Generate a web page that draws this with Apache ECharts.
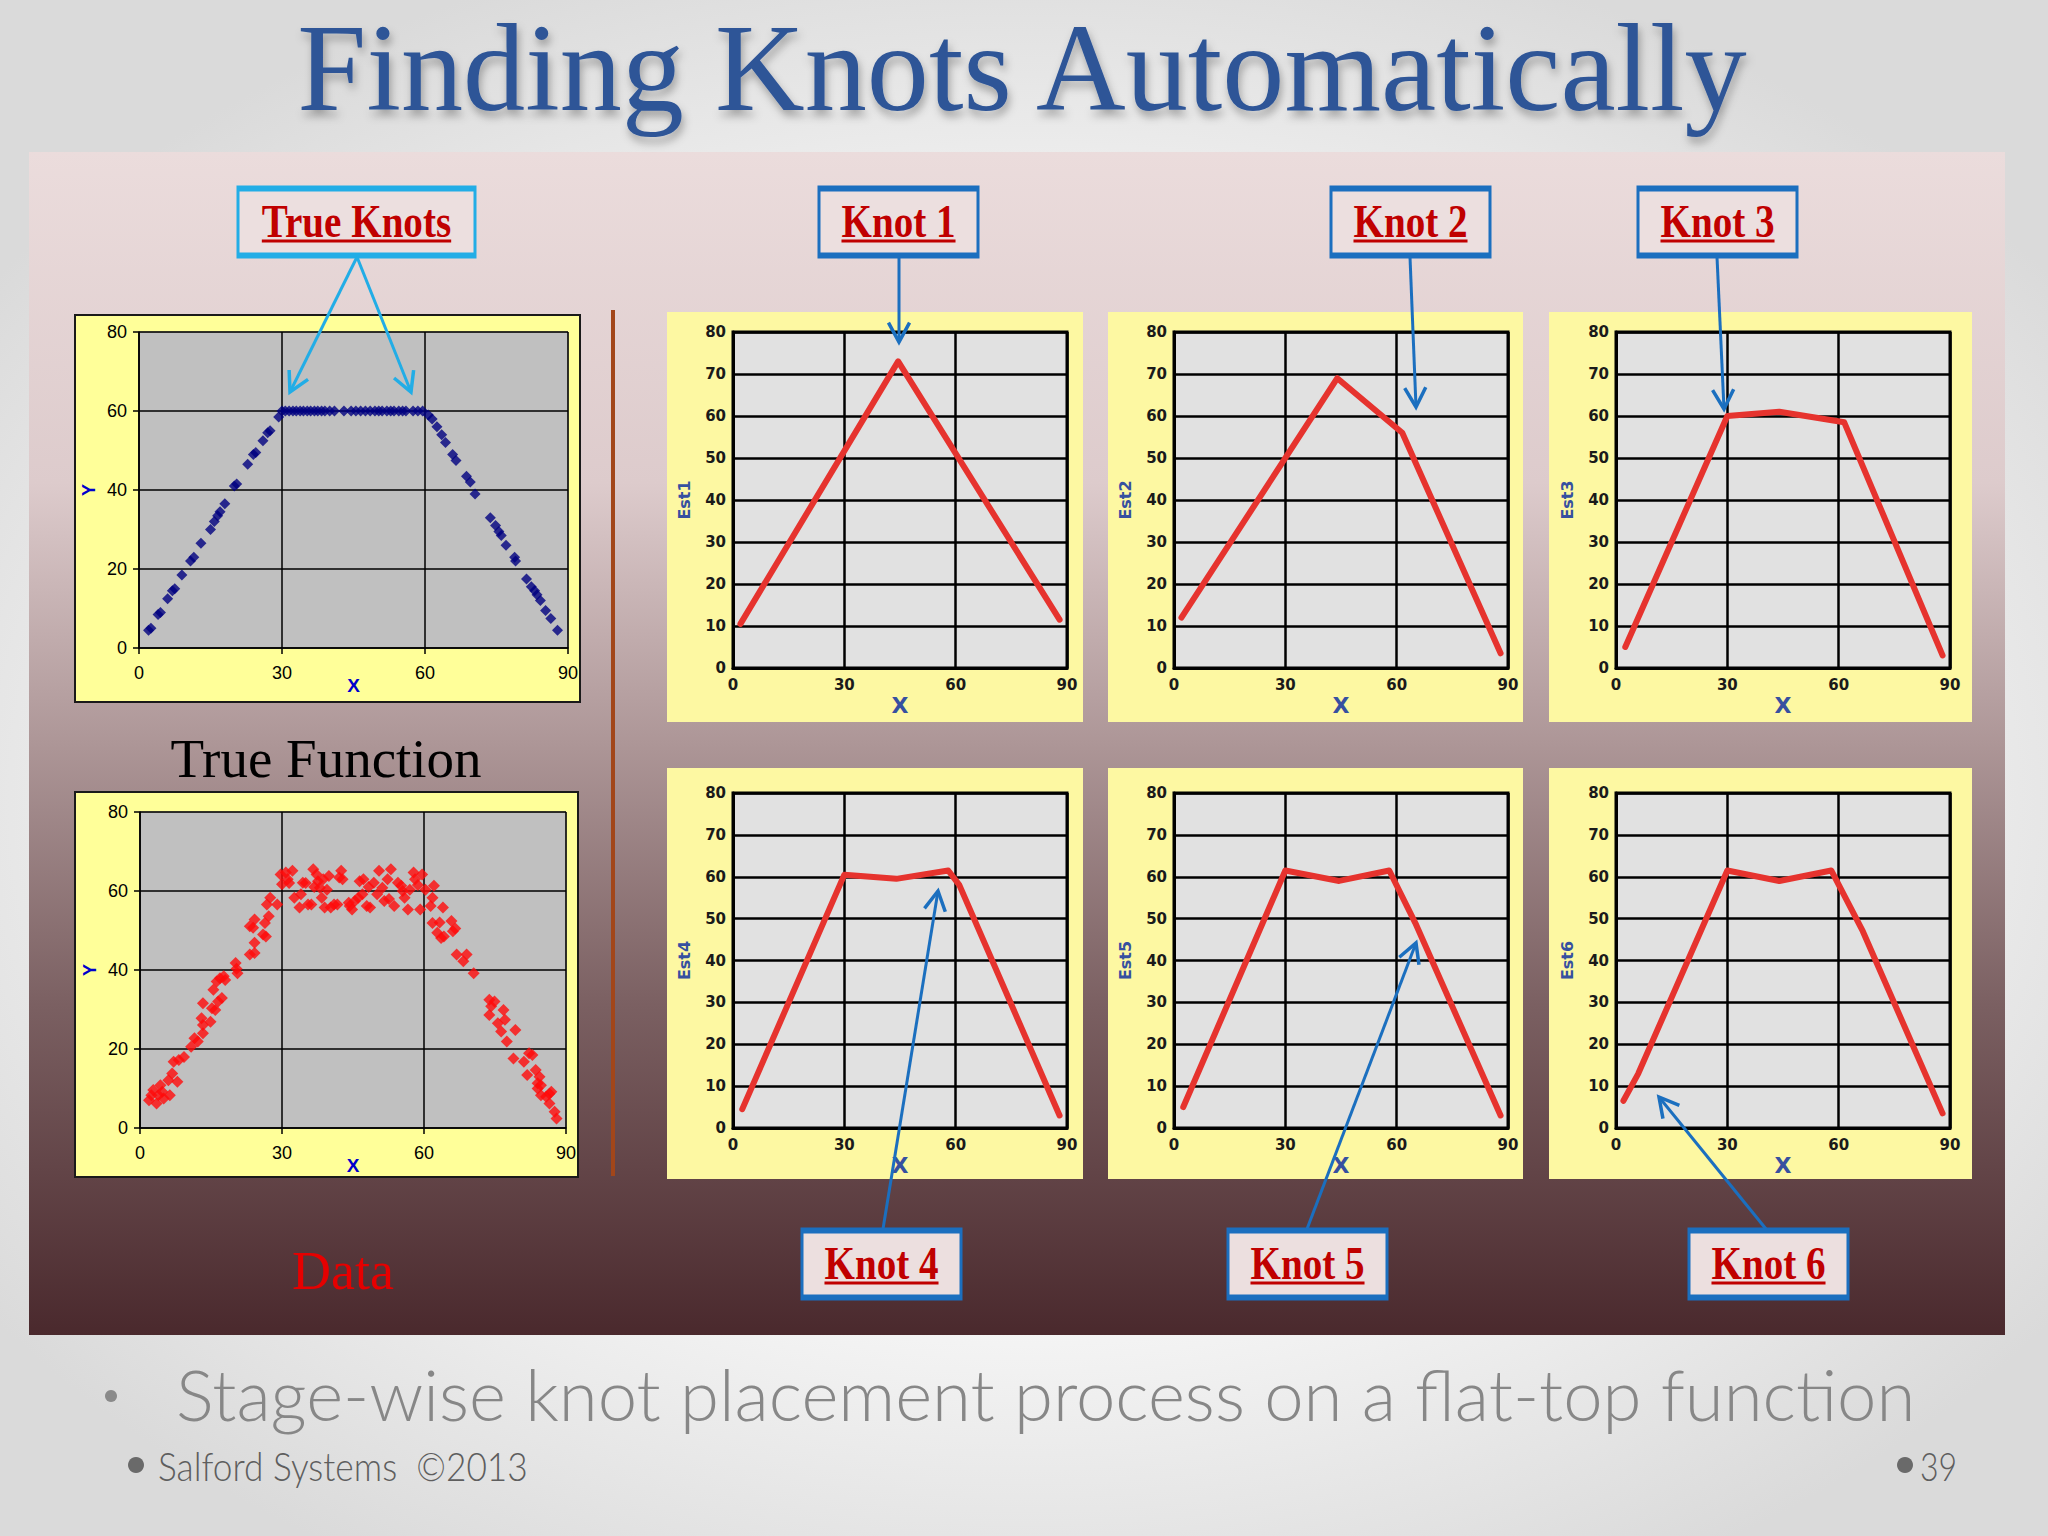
<!DOCTYPE html>
<html><head><meta charset="utf-8">
<script src="https://cdn.jsdelivr.net/npm/echarts@6/dist/echarts.min.js"></script>
<style>
html,body{margin:0;padding:0;width:2048px;height:1536px;overflow:hidden;}
body{background: radial-gradient(ellipse 62% 58% at 50% 52%, #ffffff 0%, #f7f7f7 55%, #dadada 100%);}
#c{width:2048px;height:1536px;}
</style></head><body><div id="c"></div>
<script>
// ---------------- data ----------------
const xTicks = [0, 30, 60, 90];
const leftYTicks = [0, 20, 40, 60, 80];
const rightYTicks = [0, 10, 20, 30, 40, 50, 60, 70, 80];

const trueFunction = [
  [2,4.5],[2.5,5],[4,8.5],[4.5,9],[6,12.5],[7,14.5],[7.5,15],[9,18.5],[10.8,22],[11.5,23],[13,26.5],
  [15,30],[15.8,32],[16.5,33.5],[17,34.5],[18,36.5],[20,41],[20.5,41.5],[22.8,46.5],[24,49],[24.5,49.5],
  [26,52.5],[27,54.5],[27.5,55],[29.3,58.5],
  [30,60],[30.7,60],[31.5,60],[32.3,60],[33,60],[33.8,60],[34.5,60],[35.3,60],[36,60],[36.8,60],[37.5,60],
  [38.3,60],[39,60],[40,60],[41,60],[43,60],[44.5,60],[45.5,60],[46.5,60],[47.5,60],[48.5,60],[49.5,60],
  [50.3,60],[51,60],[52,60],[52.8,60],[53.5,60],[54.5,60],[55.3,60],[56,60],[57.5,60],[58.5,60],[59.5,60],
  [60.7,59],[61.5,58],[62.5,56],[63.5,54],[64.3,52],[65.8,49],[66.5,47.5],[68.7,43.5],[69.5,42],[70.5,39],
  [73.7,33],[74.8,31],[75.5,29.5],[76,28.5],[77,26],[78.8,23],[79,22],[81.3,17.5],[82.3,15.5],[83,14.5],
  [83.5,13.5],[84.2,12],[85.3,9.5],[86.4,7.5],[87.8,4.5]
];

const noisyData = [
  [1.9,7],[2.4,8.3],[2.8,9.6],[3.5,6.2],[3.9,8.3],[4.3,10.8],[4.7,9.2],[5,7.5],[6,12.1],[6.3,8.3],[6.8,13.8],
  [7.1,16.8],[7.9,11.7],[8.2,17.2],[9.3,18],[10.8,20.6],[11.5,22.7],[12.2,21.9],[13,27.8],[13.3,31.6],[13.3,24],
  [13.3,26.1],[14.9,26.9],[15.2,30.3],[15.5,35],[15.9,29.9],[16.2,37.1],[16.5,32],[16.9,37.9],[17.3,32.9],
  [17.7,38.4],[18,37.5],[20.2,41.8],[20.6,39.2],[20.4,40.3],[23.2,43.9],[23.2,51.1],[23.9,50.7],[24.2,52.8],
  [24.2,46.9],[24.2,44.3],[26,49],[26.4,51.9],[26.6,48.5],[26.8,56.6],[27.2,53.6],[27.5,58.3],[29,56.6],
  [29.7,64.2],[30,61.7],[30.8,64.7],[31.2,63],[31.5,62],[32.2,65.1],[32.6,58.3],[33.7,55.8],[34,59.2],[34.4,62.1],
  [35,62],[35.5,56.6],[36.2,56.6],[36.6,65.5],[36.8,61],[37.3,64.2],[37.6,62.5],[38,60.8],[38.4,58.3],[38.7,63],
  [39,55.8],[39.5,60.3],[39.9,63.8],[40.3,55.8],[41,56.6],[41.7,56.6],[42.1,63.4],[42.5,65.1],[42.8,63],
  [44.1,57],[44.3,56.2],[44.8,55.3],[45.4,57.5],[46.1,58.3],[46.4,62.5],[47,59.2],[47.2,63],[47.9,56.2],
  [48.3,61],[48.6,55.8],[49.4,62.1],[50.1,59.2],[50.5,65.1],[51.2,60.8],[51.6,57.5],[52.3,63],[52.6,58],
  [53,65.5],[53.7,56.2],[54.5,62.1],[55.2,61.3],[55.5,60],[55.9,58.3],[56.6,55.3],[57,60.3],[57.8,64.7],
  [58.1,63],[58.7,61.5],[59.2,55.3],[59.6,64.2],[60.3,60.3],[61.4,56.2],[61.8,58.3],[62.1,61.3],[61.8,51.9],
  [62.8,49.4],[63.6,48.1],[64,55.8],[63.3,52],[64.2,48.5],[65.8,52.4],[66.1,49.8],[66.6,50.5],[66.9,43.9],
  [68.3,42.2],[69,43.9],[70.5,39.2],[73.8,32.5],[73.8,28.6],[74.2,30.8],[74.9,32],[75.6,26.5],[76.3,24.4],
  [76.8,29.9],[77.1,27.4],[77.5,21.9],[78.9,17.6],[79.3,24.8],[81.1,16.8],[81.8,13.4],[82.2,18.9],[82.9,18.5],
  [83.6,14.7],[84,11.3],[84,10],[84.4,13],[84.7,10.8],[84.7,8.3],[85.8,7.9],[86.5,8.7],[86.9,9.2],[86.5,6.2],
  [87.6,4.1],[88,2.4]
];

const est1 = [[2,10.5],[44.5,73],[88,11.5]];
const est2 = [[2,12],[44,69],[61.5,56],[88,3.5]];
const est3 = [[2.5,5],[30,60],[44,61],[61.5,58.5],[88,3]];
const est4 = [[2.5,4.5],[30,60.5],[44,59.5],[58,61.5],[61,58],[88,3]];
const est5 = [[2.5,5],[30,61.5],[44.5,59],[58,61.5],[65,49],[88,3]];
const est6 = [[2,6.5],[6,13],[30,61.5],[44,59],[58,61.5],[66.5,47],[88,3.5]];
const estNames = ['Est1','Est2','Est3','Est4','Est5','Est6'];
const knotLabels = ['Knot 1','Knot 2','Knot 3','Knot 4','Knot 5','Knot 6'];

const titleText = 'Finding Knots Automatically';
const bulletText = 'Stage-wise knot placement process on a flat-top function';
const footerText = 'Salford Systems  \u00A92013';
const pageNumber = '39';

// ---------------- layout ----------------
const chart = echarts.init(document.getElementById('c'), null, {renderer: 'svg'});
const mctx = document.createElement('canvas').getContext('2d');
function textWidth(t, font){ mctx.font = font; return mctx.measureText(t).width; }

const leftGrids = [
  {left:139, top:332, width:429, height:316},
  {left:140, top:812, width:426, height:316}
];
const rightGrids = [
  {left:733, top:332, width:334, height:336},
  {left:1174, top:332, width:334, height:336},
  {left:1616, top:332, width:334, height:336},
  {left:733, top:793, width:334, height:335},
  {left:1174, top:793, width:334, height:335},
  {left:1616, top:793, width:334, height:335}
];
const grids = [];
leftGrids.forEach(g => grids.push(Object.assign({show:true, backgroundColor:'#c0c0c0', borderColor:'#8a8a8a', borderWidth:1}, g)));
rightGrids.forEach(g => grids.push(Object.assign({show:true, backgroundColor:'#e1e1e1', borderColor:'#000', borderWidth:3}, g)));

const xAxes = [], yAxes = [];
for (let i = 0; i < 2; i++) {
  xAxes.push({gridIndex:i, type:'value', min:xTicks[0], max:xTicks[xTicks.length-1], interval:xTicks[1]-xTicks[0],
    name:'X', nameLocation:'middle', nameGap:28, nameMoveOverlap:false,
    nameTextStyle:{color:'#0000cc', fontWeight:'bold', fontSize:19, fontFamily:'Liberation Sans'},
    axisLine:{show:true, onZero:false, lineStyle:{color:'#000', width:1.5}},
    axisTick:{show:true, length:6, lineStyle:{color:'#000', width:1.5}},
    axisLabel:{margin:16, fontSize:18, color:'#000', fontFamily:'Liberation Sans', showMinLabel:true, showMaxLabel:true},
    splitLine:{show:true, lineStyle:{color:'#000', width:1.5}}});
  yAxes.push({gridIndex:i, type:'value', min:leftYTicks[0], max:leftYTicks[leftYTicks.length-1], interval:leftYTicks[1]-leftYTicks[0],
    name:'Y', nameLocation:'middle', nameGap:41, nameRotate:90, nameMoveOverlap:false,
    nameTextStyle:{color:'#0000cc', fontWeight:'bold', fontSize:18, fontFamily:'Liberation Sans'},
    axisLine:{show:true, onZero:false, lineStyle:{color:'#000', width:1.5}},
    axisTick:{show:true, length:6, lineStyle:{color:'#000', width:1.5}},
    axisLabel:{margin:12, fontSize:18, color:'#000', fontFamily:'Liberation Sans', showMinLabel:true, showMaxLabel:true},
    splitLine:{show:true, lineStyle:{color:'#000', width:1.5}}});
}
for (let i = 0; i < 6; i++) {
  const gi = i + 2;
  xAxes.push({gridIndex:gi, type:'value', min:xTicks[0], max:xTicks[xTicks.length-1], interval:xTicks[1]-xTicks[0],
    name:'X', nameLocation:'middle', nameGap:26, nameMoveOverlap:false,
    nameTextStyle:{color:'#3650a0', fontWeight:'bold', fontSize:22, fontFamily:'DejaVu Sans'},
    axisLine:{show:true, onZero:false, lineStyle:{color:'#000', width:3}},
    axisTick:{show:false},
    axisLabel:{margin:9, fontSize:15, fontWeight:'bold', color:'#1a1a1a', fontFamily:'DejaVu Sans', showMinLabel:true, showMaxLabel:true},
    splitLine:{show:true, lineStyle:{color:'#000', width:2.5}}});
  yAxes.push({gridIndex:gi, type:'value', min:rightYTicks[0], max:rightYTicks[rightYTicks.length-1], interval:rightYTicks[1]-rightYTicks[0],
    name:estNames[i], nameLocation:'middle', nameGap:41, nameRotate:90, nameMoveOverlap:false,
    nameTextStyle:{color:'#3650a0', fontWeight:'bold', fontSize:16, fontFamily:'DejaVu Sans'},
    axisLine:{show:true, onZero:false, lineStyle:{color:'#000', width:3}},
    axisTick:{show:false},
    axisLabel:{margin:7, fontSize:15, fontWeight:'bold', color:'#1a1a1a', fontFamily:'DejaVu Sans', showMinLabel:true, showMaxLabel:true},
    splitLine:{show:true, lineStyle:{color:'#000', width:2.5}}});
}

const estSeries = [est1, est2, est3, est4, est5, est6];
const series = [
  {type:'scatter', xAxisIndex:0, yAxisIndex:0, data:trueFunction, symbol:'diamond', symbolSize:11,
   itemStyle:{color:'#000080'}, silent:true},
  {type:'scatter', xAxisIndex:1, yAxisIndex:1, data:noisyData, symbol:'diamond', symbolSize:12,
   itemStyle:{color:'#ff0a0a'}, silent:true}
];
estSeries.forEach((d, i) => series.push({type:'line', xAxisIndex:i+2, yAxisIndex:i+2, data:d, showSymbol:false,
  lineStyle:{color:'#e6332e', width:6, cap:'round', join:'round'}, silent:true}));

// ---------------- decorations ----------------
const els = [];
// content panel
els.push({type:'rect', z:-20, shape:{x:29, y:152, width:1976, height:1183},
  style:{fill:{type:'linear', x:0, y:0, x2:0, y2:1, colorStops:[
    {offset:0, color:'#ebdcdc'}, {offset:0.28, color:'#ddcbcc'}, {offset:0.5, color:'#ad9697'},
    {offset:0.72, color:'#7b6062'}, {offset:1, color:'#4a292d'}]}}});
// yellow chart boxes
els.push({type:'rect', z:-10, shape:{x:75, y:315, width:505, height:387}, style:{fill:'#ffff99', stroke:'#1a1a1a', lineWidth:2}});
els.push({type:'rect', z:-10, shape:{x:75, y:792, width:503, height:385}, style:{fill:'#ffff99', stroke:'#1a1a1a', lineWidth:2}});
const rBoxes = [[667,312,416,410],[1108,312,415,410],[1549,312,423,410],[667,768,416,411],[1108,768,415,411],[1549,768,423,411]];
rBoxes.forEach(b => els.push({type:'rect', z:-10, shape:{x:b[0], y:b[1], width:b[2], height:b[3]}, style:{fill:'#fdf8a2'}}));
// brown divider
els.push({type:'line', z:-5, shape:{x1:613, y1:310, x2:613, y2:1176}, style:{stroke:'#a2461a', lineWidth:4}});

// title
const titleFont = '124px "Liberation Serif"';
const titleScale = 1456 / textWidth(titleText, titleFont);
els.push({type:'text', z:100, x:1022, y:68, scaleX:titleScale,
  style:{text:titleText, fontFamily:'Liberation Serif', fontSize:124, lineHeight:124, fill:'#2e5597', align:'center', verticalAlign:'middle',
    textShadowColor:'rgba(0,0,0,0.3)', textShadowBlur:8, textShadowOffsetY:6, textShadowOffsetX:2}});

// side texts
els.push({type:'text', z:100, x:326, y:758, style:{text:'True Function', fontFamily:'Liberation Serif', fontSize:55, fill:'#000', align:'center', verticalAlign:'middle'}});
els.push({type:'text', z:100, x:343, y:1271, style:{text:'Data', fontFamily:'Liberation Serif', fontSize:54, fill:'#e60000', align:'center', verticalAlign:'middle'}});

// label boxes
function labelBox(x, y, w, h, label, color){
  els.push({type:'rect', z:100, shape:{x:x, y:y, width:w, height:h}, style:{fill:'#ecdfdf', stroke:color, lineWidth:3}});
  els.push({type:'line', z:101, shape:{x1:x, y1:y+2, x2:x+w, y2:y+2}, style:{stroke:color, lineWidth:5}});
  els.push({type:'line', z:101, shape:{x1:x, y1:y+h-2, x2:x+w, y2:y+h-2}, style:{stroke:color, lineWidth:5}});
  const font = 'bold 46px "Liberation Serif"';
  const sx = 0.85;
  const tw = textWidth(label, font) * sx;
  const cx = x + w/2, cy = y + h/2 - 1;
  els.push({type:'text', z:102, x:cx, y:cy, scaleX:sx,
    style:{text:label, fontFamily:'Liberation Serif', fontWeight:'bold', fontSize:46, fill:'#c00000', align:'center', verticalAlign:'middle'}});
  els.push({type:'line', z:102, shape:{x1:cx - tw/2, y1:cy + 20, x2:cx + tw/2, y2:cy + 20}, style:{stroke:'#c00000', lineWidth:3}});
}
function arrow(x1, y1, x2, y2, color){
  els.push({type:'line', z:103, shape:{x1:x1, y1:y1, x2:x2, y2:y2}, style:{stroke:color, lineWidth:3}});
  const a = Math.atan2(y2-y1, x2-x1), L = 22, s = 0.5;
  els.push({type:'polyline', z:103, shape:{points:[
    [x2 - L*Math.cos(a - s), y2 - L*Math.sin(a - s)], [x2, y2], [x2 - L*Math.cos(a + s), y2 - L*Math.sin(a + s)]]},
    style:{stroke:color, lineWidth:3.5, fill:null}});
}
const cyan = '#22ade6', blue = '#1b6fbf';
labelBox(238, 187, 237, 70, 'True Knots', cyan);
arrow(357, 257, 290, 392, cyan);
arrow(357, 257, 411, 392, cyan);
const knotBoxes = [[819,187],[1331,187],[1638,187],[802,1229],[1228,1229],[1689,1229]];
knotBoxes.forEach((b, i) => labelBox(b[0], b[1], 159, 70, knotLabels[i], blue));
arrow(899, 257, 899, 342, blue);
arrow(1410, 257, 1416, 407, blue);
arrow(1717, 257, 1724, 409, blue);
arrow(883, 1229, 938, 891, blue);
arrow(1307, 1229, 1416, 943, blue);
arrow(1766, 1229, 1659, 1097, blue);

// bullet line and footer
const bFont = '300 70px "Lato"';
const bScale = 1740 / textWidth(bulletText, bFont);
els.push({type:'circle', z:100, shape:{cx:111, cy:1396, r:6}, style:{fill:'#8a8a8a'}});
els.push({type:'text', z:100, x:176, y:1394, scaleX:bScale,
  style:{text:bulletText, fontFamily:'Lato', fontWeight:300, fontSize:70, fill:'#878787', align:'left', verticalAlign:'middle'}});
const fFont = '300 40px "Lato"';
const fScale = 370 / textWidth(footerText, fFont);
els.push({type:'circle', z:100, shape:{cx:136, cy:1465, r:8}, style:{fill:'#6a6a6a'}});
els.push({type:'text', z:100, x:158, y:1466, scaleX:fScale,
  style:{text:footerText, fontFamily:'Lato', fontWeight:300, fontSize:40, fill:'#5e5e5e', align:'left', verticalAlign:'middle'}});
els.push({type:'circle', z:100, shape:{cx:1905, cy:1465, r:8}, style:{fill:'#6a6a6a'}});
els.push({type:'text', z:100, x:1920, y:1466, scaleX:0.8,
  style:{text:pageNumber, fontFamily:'Lato', fontWeight:300, fontSize:40, fill:'#5e5e5e', align:'left', verticalAlign:'middle'}});

chart.setOption({
  animation:false,
  backgroundColor:'transparent',
  grid:grids,
  xAxis:xAxes,
  yAxis:yAxes,
  series:series,
  graphic:{elements:els}
});
</script></body></html>
